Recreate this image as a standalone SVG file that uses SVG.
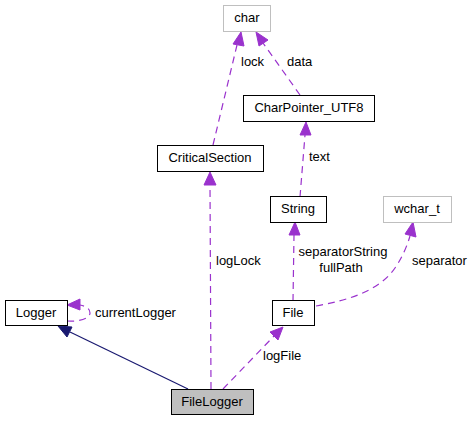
<svg xmlns="http://www.w3.org/2000/svg" width="472" height="421" viewBox="0 0 472 421">
<style>
text{font-family:"Liberation Sans",Arial,sans-serif;font-size:13px;fill:#000}
.n{fill:#fff;stroke:#000;stroke-width:1}
.g{fill:#fff;stroke:#bfbfbf;stroke-width:1}
.c{text-anchor:middle}
.d{fill:none;stroke:#9a32cd;stroke-width:1.2;stroke-dasharray:7,5}
.s{fill:none;stroke:#191970;stroke-width:1.2}
.ap{fill:#9a32cd;stroke:#9a32cd}
.an{fill:#191970;stroke:#191970}
</style>
<rect width="472" height="421" fill="#fff"/>
<g id="connectors">
<path class="d" d="M213,145 L237,45"/>
<polygon class="ap" points="241,32 244,46 233,44"/>
<text x="241" y="66">lock</text>
<path class="d" d="M300,95 L263,43"/>
<polygon class="ap" points="256,32 268,40 259,46"/>
<text x="287" y="66">data</text>
<path class="d" d="M300,197 L305,135"/>
<polygon class="ap" points="306,122 311,135 300,135"/>
<text x="309" y="161">text</text>
<path class="d" d="M211,389 L210,185"/>
<polygon class="ap" points="210,172 216,185 204,185"/>
<text x="216" y="265">logLock</text>
<path class="d" d="M293,301 L294,235"/>
<polygon class="ap" points="295,222 300,235 289,235"/>
<text x="343" y="256" class="c">separatorString</text>
<text x="341" y="272" class="c">fullPath</text>
<path class="d" d="M316,306 C350,300 380,290 395,268 C403,256 407,246 410,236"/>
<polygon class="ap" points="413,222 416,237 405,234"/>
<text x="412" y="265">separator</text>
<path class="d" d="M223,389 L274,336"/>
<polygon class="ap" points="283,327 278,340 270,332"/>
<text x="263" y="360">logFile</text>
<path class="s" d="M188,389 L70,332"/>
<polygon class="an" points="58,326 72,327 67,337"/>
<path class="d" d="M67,321 C80,322 90,318 90,313 C90,308 85,306 80,305"/>
<polygon class="ap" points="67,305 80,299 80,310"/>
<text x="95" y="317">currentLogger</text>
</g>
<g id="char"><rect class="g" x="223.5" y="5.5" width="47" height="26"/><text x="247" y="22" class="c">char</text></g>
<g id="CharPointer_UTF8"><rect class="n" x="243.5" y="95.5" width="131" height="26"/><text x="309" y="112" class="c">CharPointer_UTF8</text></g>
<g id="CriticalSection"><rect class="n" x="157.5" y="145.5" width="106" height="26"/><text x="210" y="162" class="c">CriticalSection</text></g>
<g id="String"><rect class="n" x="270.5" y="196.5" width="56" height="26"/><text x="298" y="213" class="c">String</text></g>
<g id="wchar_t"><rect class="g" x="383.5" y="196.5" width="68" height="26"/><text x="417" y="213" class="c">wchar_t</text></g>
<g id="Logger"><rect class="n" x="5.5" y="300.5" width="62" height="25"/><text x="36" y="317" class="c">Logger</text></g>
<g id="File"><rect class="n" x="272.5" y="300.5" width="42" height="25"/><text x="293" y="317" class="c">File</text></g>
<g id="FileLogger"><rect x="171.5" y="389.5" width="82" height="25" fill="#bfbfbf" stroke="#000"/><text x="212" y="406" class="c">FileLogger</text></g>
</svg>
